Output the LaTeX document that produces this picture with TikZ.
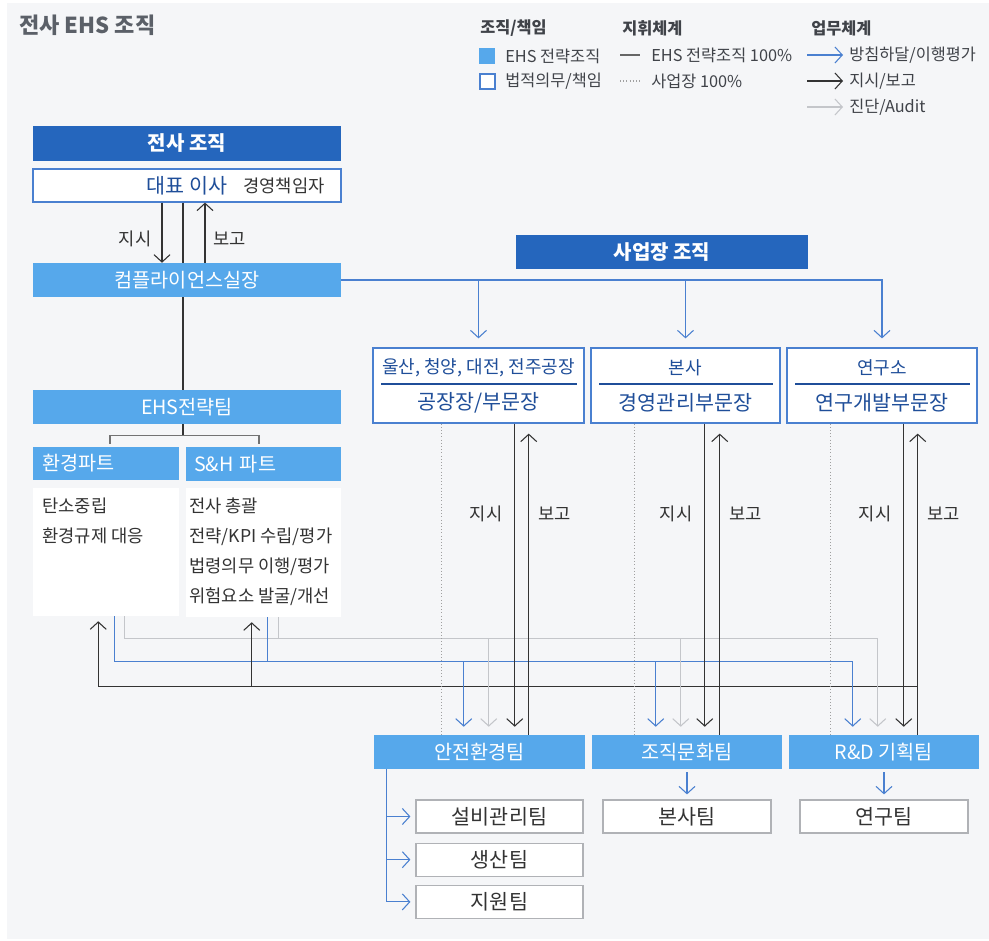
\documentclass[tikz,border=0pt]{standalone}
\usepackage{fontspec}
\setmainfont{Noto Sans CJK KR}
\usetikzlibrary{arrows.meta,positioning,calc}

\definecolor{orgblue}{HTML}{2566BD}
\definecolor{ehsblue}{HTML}{56A8EB}
\definecolor{lineblue}{HTML}{4A80D0}
\definecolor{textblue}{HTML}{1F4E99}
\definecolor{auditgray}{HTML}{C4C6CA}
\definecolor{boxgray}{HTML}{B0B2B6}
\definecolor{dotgray}{HTML}{A0A0A0}
\definecolor{inkgray}{HTML}{333333}
\definecolor{titlegray}{HTML}{5B6068}
\definecolor{bggray}{HTML}{F5F6F8}

\tikzset{
  wh/.style 2 args={minimum width={#1*0.75pt}, minimum height={#2*0.75pt}},
  box/.style={inner sep=0pt, font=\fontsize{14.75}{17}\selectfont},
  orgtitle/.style={box, fill=orgblue, text=white, font=\bfseries\fontsize{15}{17}\selectfont},
  ehsbox/.style={box, fill=ehsblue, text=white},
  dutybox/.style={box, draw=lineblue, line width=0.9pt, fill=white, text=textblue, font=\fontsize{15.5}{17}\selectfont},
  teambox/.style={box, draw=boxgray, line width=0.9pt, fill=white, text=inkgray, font=\fontsize{15.5}{17}\selectfont},
  workbox/.style={box, fill=white},
  listtext/.style={inner sep=0pt, align=left, font=\fontsize{13.25}{22.5}\selectfont},
  lbl/.style={inner sep=0pt, font=\fontsize{13.25}{15}\selectfont},
  legendhead/.style={anchor=west, inner sep=0pt, text=titlegray!70!black, font=\bfseries\fontsize{12.25}{14}\selectfont},
  legenditem/.style={anchor=west, inner sep=0pt, text=titlegray!70!black, font=\fontsize{12.25}{14}\selectfont},
  policy/.style={draw=lineblue, line width=0.8pt, ->},
  order/.style={draw=black!80, line width=0.8pt, ->},
  audit/.style={draw=auditgray, line width=0.8pt, ->},
  cmdline/.style={draw=black!80, line width=0.8pt},
  siteline/.style={draw=dotgray, line width=0.8pt, dash pattern=on 0.8pt off 1.6pt},
}

\begin{document}
\begin{tikzpicture}[x=0.75pt, y=-0.75pt, text=inkgray, >={Straight Barb[length=5.5pt,width=12pt]}]
\useasboundingbox (0,0) rectangle (989,941);
\fill[bggray] (7,3) rectangle (989,939);

\node[anchor=west, inner sep=0pt, text=titlegray, font=\bfseries\fontsize{16.5}{18}\selectfont] (title) at (19,25) {전사 EHS 조직};

% legend
\node[legendhead] (lgorg) at (480,28) {조직/책임};
\node[legendhead] (lgcmd) at (622,28) {지휘체계};
\node[legendhead] (lgwork) at (811,28) {업무체계};
\node[fill=ehsblue, wh={16}{16}, inner sep=0pt] (lgehs) at (487,56) {};
\node[draw=lineblue, line width=0.9pt, fill=white, wh={15}{15}, inner sep=0pt] (lgduty) at (487.5,81.5) {};
\node[legenditem] (lgehstxt) at (505,56) {EHS 전략조직};
\node[legenditem] (lgdutytxt) at (505,81) {법적의무/책임};
\node[legenditem] (lgfull) at (651,55) {EHS 전략조직 100\%};
\node[legenditem] (lgsite) at (651,81) {사업장 100\%};
\node[legenditem] (lgpolicy) at (849,55) {방침하달/이행평가};
\node[legenditem] (lgorder) at (849,81) {지시/보고};
\node[legenditem] (lgaudit) at (849,107) {진단/Audit};
\draw[cmdline, black!60] (lgfull.west) ++(-31,0) -- ++(20,0);
\draw[siteline] (lgsite.west) ++(-31,0) -- ++(22,0);
\draw[policy] (lgpolicy.west) ++(-42,0) -- ++(36,0);
\draw[order] (lgorder.west) ++(-42,0) -- ++(36,0);
\draw[audit] (lgaudit.west) ++(-42,0) -- ++(36,0);

% company-wide organisation
\node[orgtitle, wh={308}{35}] (hq) at (187,143.5) {전사 조직};
\node[dutybox, wh={308}{33}] (ceo) at (187,185.5) {대표 이사};
\node[lbl, anchor=west] (ceorole) at (243,186) {경영책임자};
\node[ehsbox, wh={308}{34}] (compl) at (187,280) {컴플라이언스실장};
\node[ehsbox, wh={308}{34}] (ehs) at (187,407) {EHS전략팀};
\draw[order] ($(ceo.south)+(-25,0)$) -- ($(compl.north)+(-25,0)$) node[lbl, pos=0.6, left=7.5pt] {지시};
\draw[cmdline] ($(ceo.south)+(-4,0)$) -- ($(compl.north)+(-4,0)$);
\draw[order] ($(compl.north)+(18,0)$) -- ($(ceo.south)+(18,0)$) node[lbl, pos=0.4, right=6pt] {보고};
\draw[cmdline] ($(compl.south)+(-4,0)$) -- ($(ehs.north)+(-4,0)$);
\draw[cmdline] ($(ehs.south)+(-4,0)$) -- ++(0,11) coordinate (ehsfork);

\node[ehsbox, wh={146}{33}, align=left, text width=96pt, inner xsep=6.75pt] (envpart) at (106,463.5) {환경파트};
\node[ehsbox, wh={155}{34}, align=left, text width=104.25pt, inner xsep=6pt] (shpart) at (263.5,464) {S\&H 파트};
\draw[draw=black!55, line width=0.8pt] ($(envpart.north)+(4,-3)$) |- (ehsfork) -| ($(shpart.north)+(-4.5,-3)$);
\node[workbox, wh={146}{128}] (envwork) at (106,552) {};
\node[workbox, wh={155}{129}] (shwork) at (263.5,552.5) {};
\node[listtext, anchor=north west] (envlist) at (42,498) {탄소중립\\환경규제 대응};
\node[listtext, anchor=north west] (shlist) at (189,498) {전사 총괄\\전략/KPI 수립/평가\\법령의무 이행/평가\\위험요소 발굴/개선};

% site organisation
\node[orgtitle, wh={292}{34}] (bizorg) at (662,252) {사업장 조직};
\node[dutybox, wh={211}{75}] (site1) at (478.5,385.5) {};
\node[dutybox, wh={189}{75}] (site2) at (685.5,385.5) {};
\node[dutybox, wh={190}{75}] (site3) at (882,385.5) {};
\node[lbl, text=textblue, font=\fontsize{13.5}{15}\selectfont] (site1name) at ($(site1.center)+(0,-18)$) {울산, 청양, 대전, 전주공장};
\node[box, text=textblue, font=\fontsize{15.5}{17}\selectfont] (site1head) at ($(site1.center)+(0,17)$) {공장장/부문장};
\node[lbl, text=textblue, font=\fontsize{13.5}{15}\selectfont] (site2name) at ($(site2.center)+(0,-18)$) {본사};
\node[box, text=textblue, font=\fontsize{15.5}{17}\selectfont] (site2head) at ($(site2.center)+(0,17)$) {경영관리부문장};
\node[lbl, text=textblue, font=\fontsize{13.5}{15}\selectfont] (site3name) at ($(site3.center)+(0,-18)$) {연구소};
\node[box, text=textblue, font=\fontsize{15.5}{17}\selectfont] (site3head) at ($(site3.center)+(0,17)$) {연구개발부문장};
\foreach \site in {site1,site2,site3}
  \draw[textblue, line width=0.9pt] ($(\site.west)+(9,-1.5)$) -- ($(\site.east)+(-8,-1.5)$);

\draw[policy, shorten >=6.75pt] (compl.east) -| (site3.north);
\draw[policy, shorten >=6.75pt] (compl.east -| site1.north) -- (site1.north);
\draw[policy, shorten >=6.75pt] (compl.east -| site2.north) -- (site2.north);

\node[ehsbox, wh={211}{34}] (team1) at (479.5,752) {안전환경팀};
\node[ehsbox, wh={190}{34}] (team2) at (687,752) {조직문화팀};
\node[ehsbox, wh={190}{34}] (team3) at (884,752) {R\&D 기획팀};

\node[teambox, wh={167}{33}] (facteam) at (499.5,816.5) {설비관리팀};
\node[teambox, wh={167}{33}, below=6.75pt of facteam] (prodteam) {생산팀};
\node[teambox, wh={167}{33}, below=6pt of prodteam] (supteam) {지원팀};
\node[teambox, wh={168}{33}] (hqteam) at (687,816.5) {본사팀};
\node[teambox, wh={168}{33}] (rdteam) at (884,816.5) {연구팀};

\coordinate (trunk) at ($(team1.south west)+(13,0)$);
\foreach \sub in {facteam,prodteam,supteam}
  \draw[policy, shorten >=3.75pt] (trunk) |- (\sub.west);
\draw[policy, shorten <=2.25pt, shorten >=3.75pt] (team2.south) -- (hqteam.north);
\draw[policy, shorten <=2.25pt, shorten >=3.75pt] (team3.south) -- (rdteam.north);

% taps on the site teams
\foreach \team/\dx/\bx/\gx/\ox/\rx in {team1/68/90/115/141/155, team2/43/64/89/113/128, team3/42/64/89/115/129}{
  \coordinate (\team-d) at ($(\team.north west)+(\dx,0)$);
  \coordinate (\team-b) at ($(\team.north west)+(\bx,0)$);
  \coordinate (\team-g) at ($(\team.north west)+(\gx,0)$);
  \coordinate (\team-o) at ($(\team.north west)+(\ox,0)$);
  \coordinate (\team-r) at ($(\team.north west)+(\rx,0)$);
}

% buses from the EHS parts
\coordinate (graybus) at ($(envwork.south)+(0,22)$);
\coordinate (bluebus) at ($(envwork.south)+(0,45)$);
\coordinate (blackbus) at ($(envwork.south)+(0,70)$);
\coordinate (envg) at ($(envwork.south west)+(92,0)$);
\coordinate (envb) at ($(envwork.south west)+(82,0)$);
\coordinate (envk) at ($(envwork.south west)+(65.5,0)$);
\coordinate (shg) at ($(shwork.south west)+(93,0)$);
\coordinate (shb) at ($(shwork.south west)+(82,0)$);
\coordinate (shk) at ($(shwork.south west)+(66,0)$);
\draw[audit, -] (envg) |- (team3-g |- graybus);
\draw[audit, -] (shg) -- (shg |- graybus);
\draw[policy, -] (envb) |- (team3-b |- bluebus);
\draw[policy, -] (shb) -- (shb |- bluebus);
\draw[order, shorten >=3.75pt] (team3-r |- blackbus) -| (envk);
\draw[order, shorten >=3.75pt] (shk |- blackbus) -- (shk);

\foreach \site/\team in {site1/team1, site2/team2, site3/team3}{
  \draw[siteline] (\team-d |- \site.south) -- (\team-d);
  \draw[policy, shorten >=6pt] (\team-b |- bluebus) -- (\team-b);
  \draw[audit, shorten >=6pt] (\team-g |- graybus) -- (\team-g);
  \draw[order, shorten >=6pt] (\team-o |- \site.south) -- (\team-o);
  \draw[order, shorten >=7.5pt] (\team-r) -- (\team-r |- \site.south);
  \node[lbl, anchor=east] (\team-cmd) at ($(\team-o |- \site.south)+(-12,90)$) {지시};
  \node[lbl, anchor=west] (\team-rep) at ($(\team-r |- \site.south)+(9,90)$) {보고};
}
\end{tikzpicture}
\end{document}
